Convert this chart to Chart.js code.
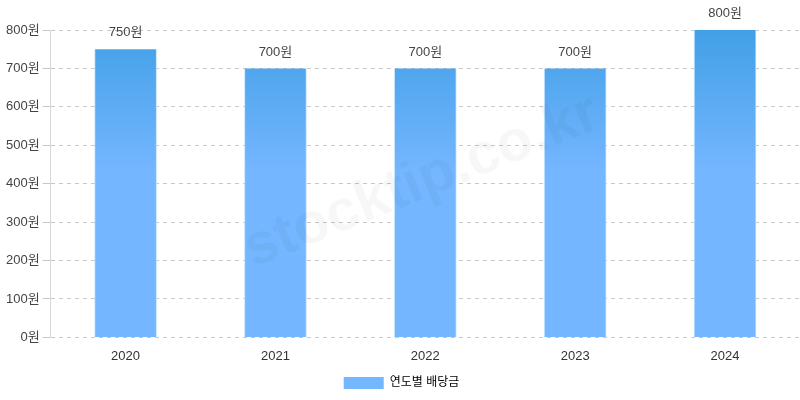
<!DOCTYPE html>
<html>
<head>
<meta charset="utf-8">
<script src="https://cdn.jsdelivr.net/npm/chart.js@4.4.1/dist/chart.umd.min.js"></script>
<style>
    html, body { margin: 0; padding: 0; background: #fff; }
    #wrap { width: 800px; height: 400px; }
</style>
</head>
<body>
<div id="wrap"><canvas id="dividendChart"></canvas></div>
<script>
// 연도별 배당금 data
const years = ['2020', '2021', '2022', '2023', '2024'];
const dividends = [750, 700, 700, 700, 800];
const yTicks = [0, 100, 200, 300, 400, 500, 600, 700, 800];

const fontFamily = "'Liberation Sans', 'Noto Sans CJK KR', sans-serif";

// value labels above bars
const valueLabels = {
    id: 'valueLabels',
    afterDatasetsDraw(chart) {
        const ctx = chart.ctx;
        const meta = chart.getDatasetMeta(0);
        ctx.save();
        ctx.font = '13px ' + fontFamily;
        ctx.fillStyle = '#444';
        ctx.textAlign = 'center';
        ctx.textBaseline = 'bottom';
        meta.data.forEach((bar, i) => {
            ctx.fillText(dividends[i] + '원', bar.x, bar.y - 10);
        });
        ctx.restore();
    }
};

// faint watermark
const watermark = {
    id: 'watermark',
    afterDraw(chart) {
        const ctx = chart.ctx;
        ctx.save();
        ctx.translate(422, 182);
        ctx.rotate(-22 * Math.PI / 180);
        ctx.font = 'bold 58px ' + fontFamily;
        ctx.fillStyle = 'rgba(0,0,0,0.03)';
        ctx.textAlign = 'center';
        ctx.textBaseline = 'middle';
        ctx.fillText('stocktip.co.kr', 0, 0);
        ctx.restore();
    }
};

function barGradient(context) {
    const chart = context.chart;
    const area = chart.chartArea;
    if (!area) return '#74b6ff';
    const g = chart.ctx.createLinearGradient(0, area.top, 0, area.top + 140);
    g.addColorStop(0, '#42a0e6');
    g.addColorStop(1, '#74b6ff');
    return g;
}

const ctx = document.getElementById('dividendChart').getContext('2d');
new Chart(ctx, {
    type: 'bar',
    data: {
        labels: years,
        datasets: [{
            label: '연도별 배당금',
            data: dividends,
            backgroundColor: barGradient,
            borderColor: 'rgba(190,225,255,0.9)',
            borderWidth: { left: 1, right: 1, top: 0, bottom: 0 },
            barThickness: 62
        }]
    },
    plugins: [valueLabels, watermark],
    options: {
        responsive: true,
        maintainAspectRatio: false,
        animation: false,
        layout: {
            padding: { top: 30, right: 0, bottom: 1, left: 3 }
        },
        plugins: {
            legend: {
                position: 'bottom',
                labels: {
                    boxWidth: 40,
                    boxHeight: 12,
                    color: '#666',
                    font: { family: fontFamily, size: 12 },
                    generateLabels: () => [{
                        text: '연도별 배당금',
                        fillStyle: '#74b6ff',
                        strokeStyle: '#74b6ff',
                        lineWidth: 0,
                        datasetIndex: 0
                    }]
                }
            },
            tooltip: { enabled: false }
        },
        scales: {
            y: {
                min: 0,
                max: 800,
                afterBuildTicks: axis => {
                    axis.ticks = yTicks.map(v => ({ value: v }));
                },
                ticks: {
                    color: '#444',
                    font: { family: fontFamily, size: 13 },
                    callback: value => value + '원'
                },
                grid: {
                    color: '#c8c8c8',
                    tickLength: 8
                },
                border: {
                    display: true,
                    color: '#d8d8d8',
                    dash: [4, 4]
                }
            },
            x: {
                ticks: {
                    color: '#333',
                    font: { family: fontFamily, size: 13 }
                },
                grid: {
                    display: false
                },
                border: {
                    display: false
                }
            }
        }
    }
});
</script>
</body>
</html>
